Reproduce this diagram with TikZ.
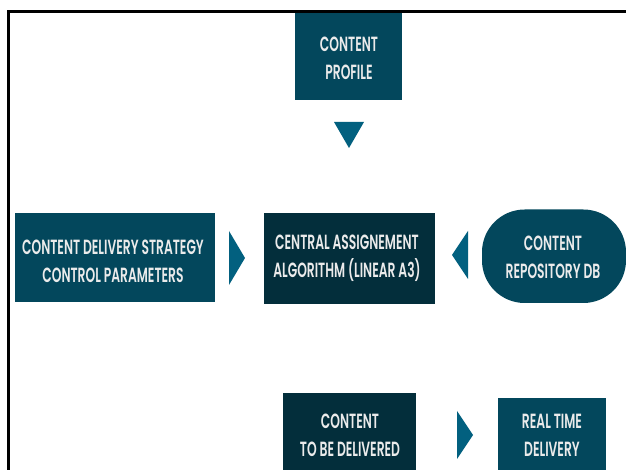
\documentclass[tikz,border=0pt]{standalone}
\usepackage{fontspec}
\setmainfont[FakeStretch=0.6]{Poppins SemiBold}
\definecolor{boxteal}{HTML}{03475C}
\definecolor{boxdark}{HTML}{032E3B}
\definecolor{arrowteal}{HTML}{02607F}
\tikzset{
  x=0.75pt,y=-0.75pt,
  lbl/.style={text=white!92!black,align=center,font=\fontsize{15.4}{21}\selectfont,inner sep=0pt},
  tealbox/.style={fill=boxteal,draw=none},
  darkbox/.style={fill=boxdark,draw=none},
  tri/.style={fill=arrowteal,draw=none},
  frameline/.style={draw=black,line width=2pt}
}
\begin{document}
\begin{tikzpicture}
\useasboundingbox (0,0) rectangle (626,470);
\fill[white] (0,0) rectangle (626,470);
\begin{scope}
\clip (0,0) rectangle (626,470);
\draw[frameline] (8.2,470) -- (8.2,11.4) -- (626,11.4);
\fill[tealbox] (295,13) rectangle (402,100);
\fill[tealbox] (15,213) rectangle (215,302);
\fill[darkbox] (264,213) rectangle (435,304);
\fill[tealbox,rounded corners=32pt] (482,209.5) rectangle (626,303);
\fill[darkbox] (283,393) rectangle (416,480);
\fill[tealbox] (498,398) rectangle (606,480);
\fill[tri] (334,122) -- (364,122) -- (349,148) -- cycle;
\fill[tri] (229,231) -- (245,258) -- (229,285) -- cycle;
\fill[tri] (468,231) -- (452,255) -- (468,279) -- cycle;
\fill[tri] (457,411) -- (473,435) -- (457,459) -- cycle;
\node[lbl] (profile) at (349,58) {CONTENT\\PROFILE};
\node[lbl] (strategy) at (113,261) {CONTENT DELIVERY STRATEGY\\CONTROL PARAMETERS};
\node[lbl] (central) at (347,258) {CENTRAL ASSIGNEMENT\\ALGORITHM (LINEAR A3)};
\node[lbl] (repo) at (553,257) {CONTENT\\REPOSITORY DB};
\node[lbl] (tobe) at (350,435) {CONTENT\\TO BE DELIVERED};
\node[lbl] (realtime) at (552,435) {REAL TIME\\DELIVERY};
\end{scope}
\end{tikzpicture}
\end{document}
